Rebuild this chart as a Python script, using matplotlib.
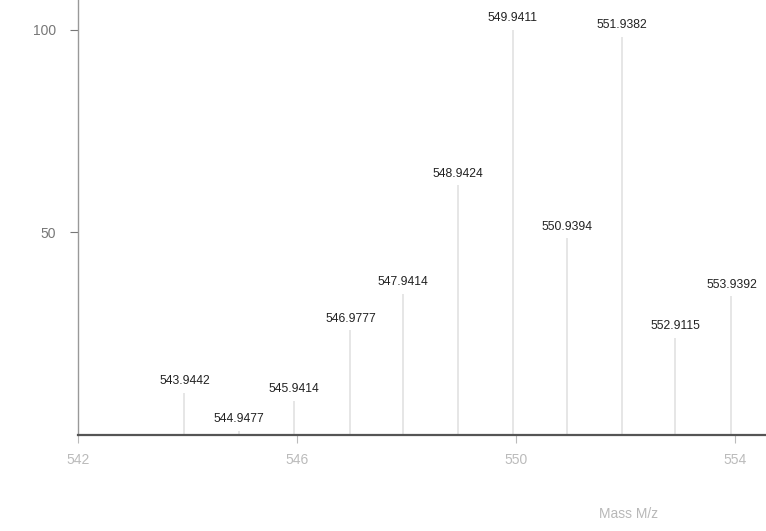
import numpy as np
import matplotlib as mpl
mpl.use('agg')
import matplotlib.pyplot as plt

plt.rcParams['font.family'] = ['Liberation Sans', 'DejaVu Sans']

# peak list
mz = [543.9442, 544.9477, 545.9414, 546.9777, 547.9414, 548.9424,
      549.9411, 550.9394, 551.9382, 552.9115, 553.9392]
intensity = [10.4, 1.0, 8.4, 25.9, 34.8, 61.7, 100.0, 48.6, 98.3, 24.0, 34.3]
xticks = [542, 546, 550, 554]
yticks = [50, 100]

fig = plt.figure(figsize=(7.66, 5.31), dpi=100)
ax = fig.add_axes([78 / 766, 96 / 531, 1 - 78 / 766, 435 / 531])

ax.vlines(mz, 0, intensity, color='#e2e2e2', lw=1.2)
for m, h in zip(mz, intensity):
    ax.annotate('%.4f' % m, (m, h), xytext=(0, 4), textcoords='offset points',
                ha='center', va='bottom', fontsize=8.7, color='#222222')

ax.set_xlim(542, 554.57)
ax.set_ylim(0, 107.4)
ax.set_xticks(xticks)
ax.set_yticks(yticks)
ax.tick_params(axis='both', colors='#bbbbbb', labelcolor='#bbbbbb', labelsize=10,
               length=6, pad=7)
ax.tick_params(axis='y', colors='#777777', pad=10)

for s in ['top', 'right']:
    ax.spines[s].set_visible(False)
ax.spines['bottom'].set_color('#555555')
ax.spines['bottom'].set_linewidth(1.6)
ax.spines['left'].set_color('#999999')
ax.spines['left'].set_linewidth(1.0)

ax.set_xlabel('Mass M/z', fontsize=10, color='#b8b8b8')
ax.xaxis.set_label_coords(0.8, -0.165)

fig.savefig('out.png', dpi=100)
